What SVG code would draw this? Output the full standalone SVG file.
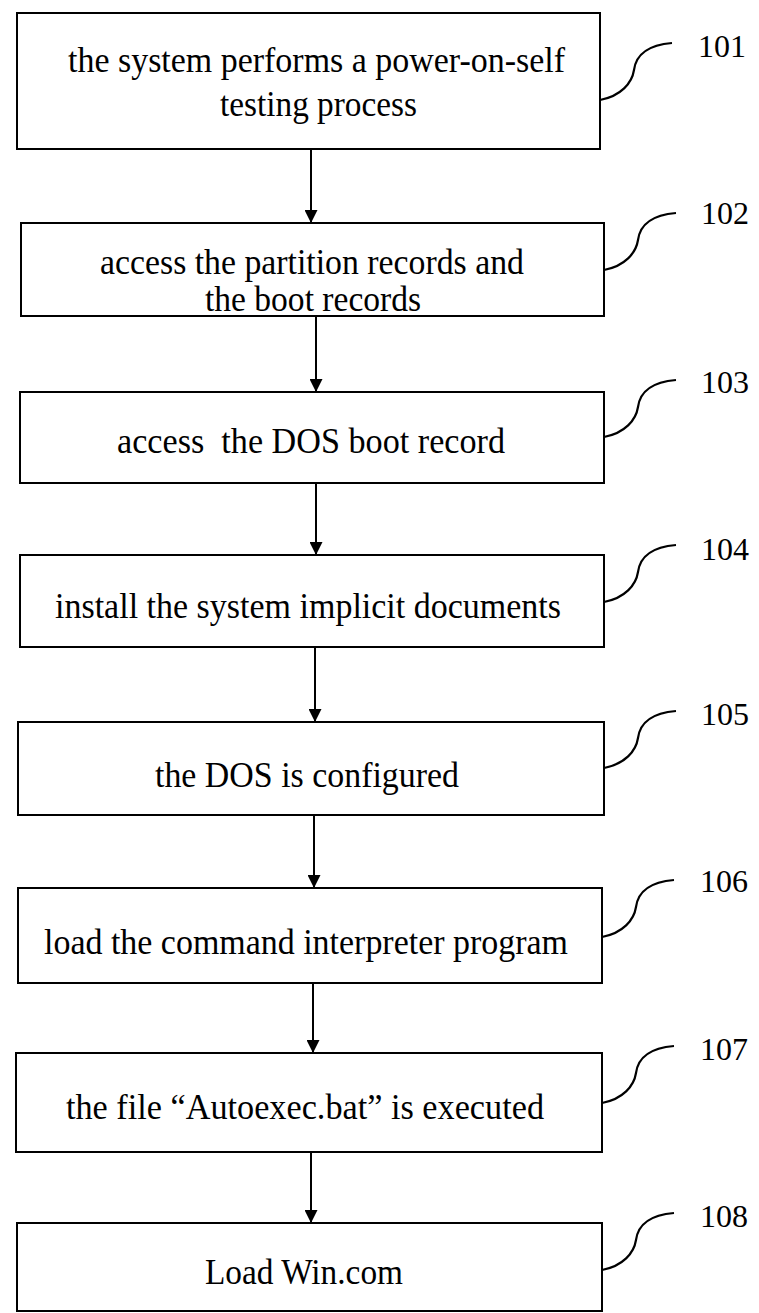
<svg xmlns="http://www.w3.org/2000/svg" width="759" height="1313" viewBox="0 0 759 1313">
<style>
  .box { fill: #fff; stroke: #000; stroke-width: 2; }
  .t { font-family: "Liberation Serif", "Times New Roman", serif; font-size: 35px; fill: #000; white-space: pre; }
  .lbl { font-family: "Liberation Serif", "Times New Roman", serif; font-size: 32px; fill: #000; }
  .edge { stroke: #000; stroke-width: 2; fill: none; }
  .br { stroke: #000; stroke-width: 2.2; fill: none; }
</style>
<defs>
  <marker id="ah" viewBox="0 0 13 13" refX="13" refY="6.5" markerWidth="13" markerHeight="13" markerUnits="userSpaceOnUse" orient="auto">
    <path d="M0,0 L13,6.5 L0,13 Z" fill="#000"/>
  </marker>
</defs>
<rect width="759" height="1313" fill="#fff"/>
<g id="connectors">
  <line class="edge" x1="311" y1="149" x2="311" y2="223" marker-end="url(#ah)"/>
  <line class="edge" x1="316" y1="316" x2="316" y2="392" marker-end="url(#ah)"/>
  <line class="edge" x1="316" y1="483" x2="316" y2="555" marker-end="url(#ah)"/>
  <line class="edge" x1="315" y1="647" x2="315" y2="722" marker-end="url(#ah)"/>
  <line class="edge" x1="314" y1="815" x2="314" y2="888" marker-end="url(#ah)"/>
  <line class="edge" x1="313" y1="983" x2="313" y2="1053" marker-end="url(#ah)"/>
  <line class="edge" x1="311" y1="1152" x2="311" y2="1223" marker-end="url(#ah)"/>
</g>
<g id="n101">
  <rect class="box" x="17" y="13" width="583" height="136"/>
  <text class="t" x="68" y="72" textLength="497" lengthAdjust="spacingAndGlyphs">the system performs a power-on-self</text>
  <text class="t" x="220" y="116" textLength="197" lengthAdjust="spacingAndGlyphs">testing process</text>
  <path class="br" d="M600,100 C621,96 632,83 634,70 C636,55 648,45 672,43"/>
  <text class="lbl" x="698" y="57">101</text>
</g>
<g id="n102">
  <rect class="box" x="21" y="223" width="583" height="93"/>
  <text class="t" x="100" y="274" textLength="424" lengthAdjust="spacingAndGlyphs">access the partition records and</text>
  <text class="t" x="205" y="311" textLength="216" lengthAdjust="spacingAndGlyphs">the boot records</text>
  <path class="br" d="M604,270 C625,266 636,253 638,240 C640,225 652,215 676,213"/>
  <text class="lbl" x="701" y="224">102</text>
</g>
<g id="n103">
  <rect class="box" x="20" y="392" width="584" height="91"/>
  <text class="t" x="117" y="453" textLength="388" lengthAdjust="spacingAndGlyphs">access  the DOS boot record</text>
  <path class="br" d="M604,437 C625,433 636,420 638,407 C640,392 652,382 676,380"/>
  <text class="lbl" x="701" y="393">103</text>
</g>
<g id="n104">
  <rect class="box" x="20" y="555" width="584" height="92"/>
  <text class="t" x="55" y="618" textLength="506" lengthAdjust="spacingAndGlyphs">install the system implicit documents</text>
  <path class="br" d="M604,602 C625,598 636,585 638,572 C640,557 652,547 676,545"/>
  <text class="lbl" x="701" y="560">104</text>
</g>
<g id="n105">
  <rect class="box" x="18" y="722" width="586" height="93"/>
  <text class="t" x="155" y="787" textLength="304" lengthAdjust="spacingAndGlyphs">the DOS is configured</text>
  <path class="br" d="M604,768 C625,764 636,751 638,738 C640,723 652,713 676,711"/>
  <text class="lbl" x="701" y="725">105</text>
</g>
<g id="n106">
  <rect class="box" x="18" y="888" width="584" height="95"/>
  <text class="t" x="44" y="954" textLength="524" lengthAdjust="spacingAndGlyphs">load the command interpreter program</text>
  <path class="br" d="M602,937 C623,933 634,920 636,907 C638,892 650,882 674,880"/>
  <text class="lbl" x="700" y="892">106</text>
</g>
<g id="n107">
  <rect class="box" x="16" y="1053" width="586" height="99"/>
  <text class="t" x="66" y="1119" textLength="478" lengthAdjust="spacingAndGlyphs">the file “Autoexec.bat” is executed</text>
  <path class="br" d="M602,1103 C623,1099 634,1086 636,1073 C638,1058 650,1048 674,1046"/>
  <text class="lbl" x="700" y="1060">107</text>
</g>
<g id="n108">
  <rect class="box" x="17" y="1223" width="585" height="88"/>
  <text class="t" x="205" y="1284" textLength="198" lengthAdjust="spacingAndGlyphs">Load Win.com</text>
  <path class="br" d="M602,1270 C623,1266 634,1253 636,1240 C638,1225 650,1215 674,1213"/>
  <text class="lbl" x="700" y="1227">108</text>
</g>
</svg>
